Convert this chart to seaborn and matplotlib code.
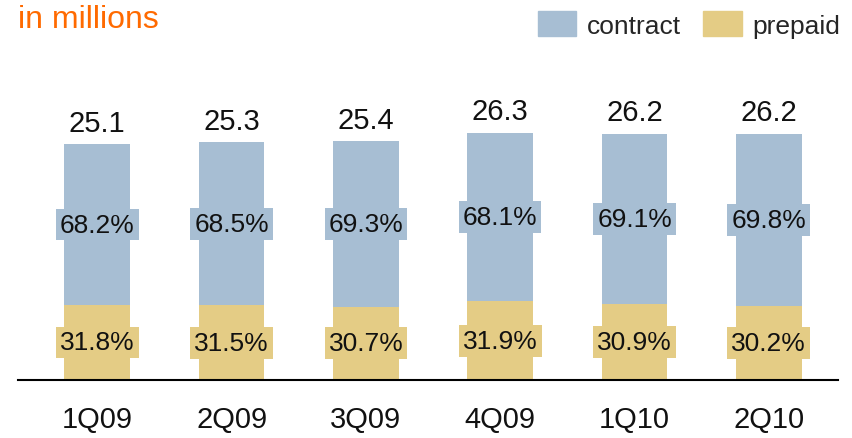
import pandas as pd
import seaborn as sns
import matplotlib.pyplot as plt
from matplotlib.patches import Patch

quarters = ['1Q09', '2Q09', '3Q09', '4Q09', '1Q10', '2Q10']
totals = [25.1, 25.3, 25.4, 26.3, 26.2, 26.2]
contract_pct = [68.2, 68.5, 69.3, 68.1, 69.1, 69.8]
prepaid_pct = [31.8, 31.5, 30.7, 31.9, 30.9, 30.2]

blue = '#a7bed3'
yellow = '#e4cc85'

df = pd.DataFrame({'quarter': quarters, 'total': totals,
                   'contract_pct': contract_pct, 'prepaid_pct': prepaid_pct})
df['prepaid'] = df.total * df.prepaid_pct / 100

sns.set_style('white')
plt.rcParams['font.family'] = ['Liberation Sans', 'DejaVu Sans']

fig = plt.figure(figsize=(8.52, 4.39), dpi=100)
ax = fig.add_axes([18 / 852, 58 / 439, 820 / 852, 282 / 439])

# full bar in contract colour, prepaid drawn over the bottom part
sns.barplot(data=df, x='quarter', y='total', color=blue, width=0.49,
            saturation=1, linewidth=0, ax=ax)
sns.barplot(data=df, x='quarter', y='prepaid', color=yellow, width=0.49,
            saturation=1, linewidth=0, ax=ax)

for i, row in df.iterrows():
    ax.text(i, row.total + 0.8, f'{row.total:.1f}', ha='center', va='bottom',
            fontsize=21, color='#111111')
    ax.text(i, (row.total + row.prepaid) / 2, f'{row.contract_pct:.1f}%',
            ha='center', va='center', fontsize=19, color='#111111',
            bbox=dict(boxstyle='square,pad=0.15', fc=blue, ec='none'))
    ax.text(i, row.prepaid / 2, f'{row.prepaid_pct:.1f}%',
            ha='center', va='center', fontsize=19, color='#111111',
            bbox=dict(boxstyle='square,pad=0.15', fc=yellow, ec='none'))

ax.set_xlim(-0.59, 5.515)
ax.set_ylim(0, 30)
ax.set_xlabel('')
ax.set_ylabel('')
ax.set_yticks([])
ax.tick_params(axis='x', length=0, labelsize=21, pad=18, labelcolor='#111111')
for s in ['top', 'left', 'right']:
    ax.spines[s].set_visible(False)
ax.spines['bottom'].set_color('black')
ax.spines['bottom'].set_linewidth(1.5)

fig.text(18 / 852, 1 - 20 / 439, 'in millions', color='#ff6a00', fontsize=23,
         ha='left', va='center')

handles = [Patch(color=blue, label='contract'), Patch(color=yellow, label='prepaid')]
fig.legend(handles=handles, loc='upper right', bbox_to_anchor=(852 / 852, 1.0),
           ncol=2, frameon=False, fontsize=19, handlelength=1.45,
           handleheight=1.1, handletextpad=0.4, columnspacing=0.85,
           borderaxespad=0.05)

fig.savefig('out.png', dpi=100)
